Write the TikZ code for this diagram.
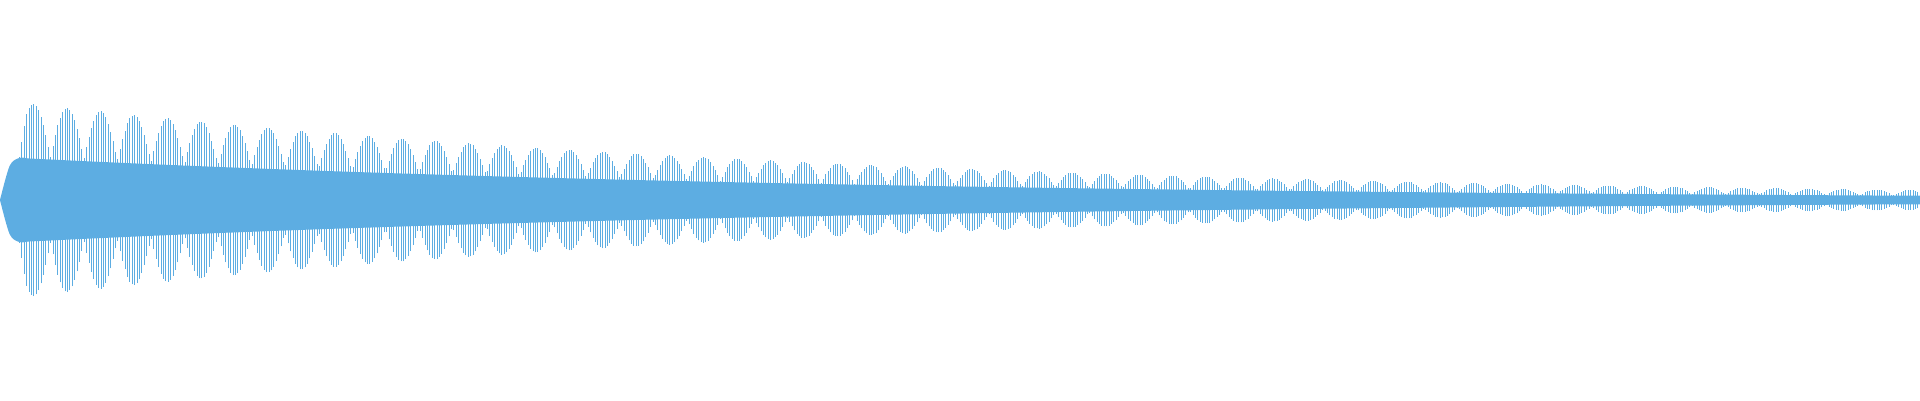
\documentclass[tikz,border=0pt]{standalone}
\definecolor{wave}{HTML}{5DADE2}
\begin{document}
\begin{tikzpicture}[x=1pt,y=1pt]
\useasboundingbox (0,0) rectangle (1920,400);
\fill[wave] plot[domain=0:1920,samples=200,smooth] (\x,{200+min(1,\x/12)*43*exp(-\x/830)}) -- plot[domain=1920:0,samples=200,smooth] (\x,{200-min(1,\x/12)*43*exp(-\x/830)}) -- cycle;
\foreach \i in {0,...,800}{
  \pgfmathsetmacro{\xx}{\i*2.4}
  \pgfmathsetmacro{\a}{min(1,\xx/25)*100*exp(-\xx/830)*(0.45+0.55*abs(cos(5.373*\xx)))}
  \draw[wave,line width=0.55pt] (\xx,200-\a) -- (\xx,200+\a);
}
\end{tikzpicture}
\end{document}
